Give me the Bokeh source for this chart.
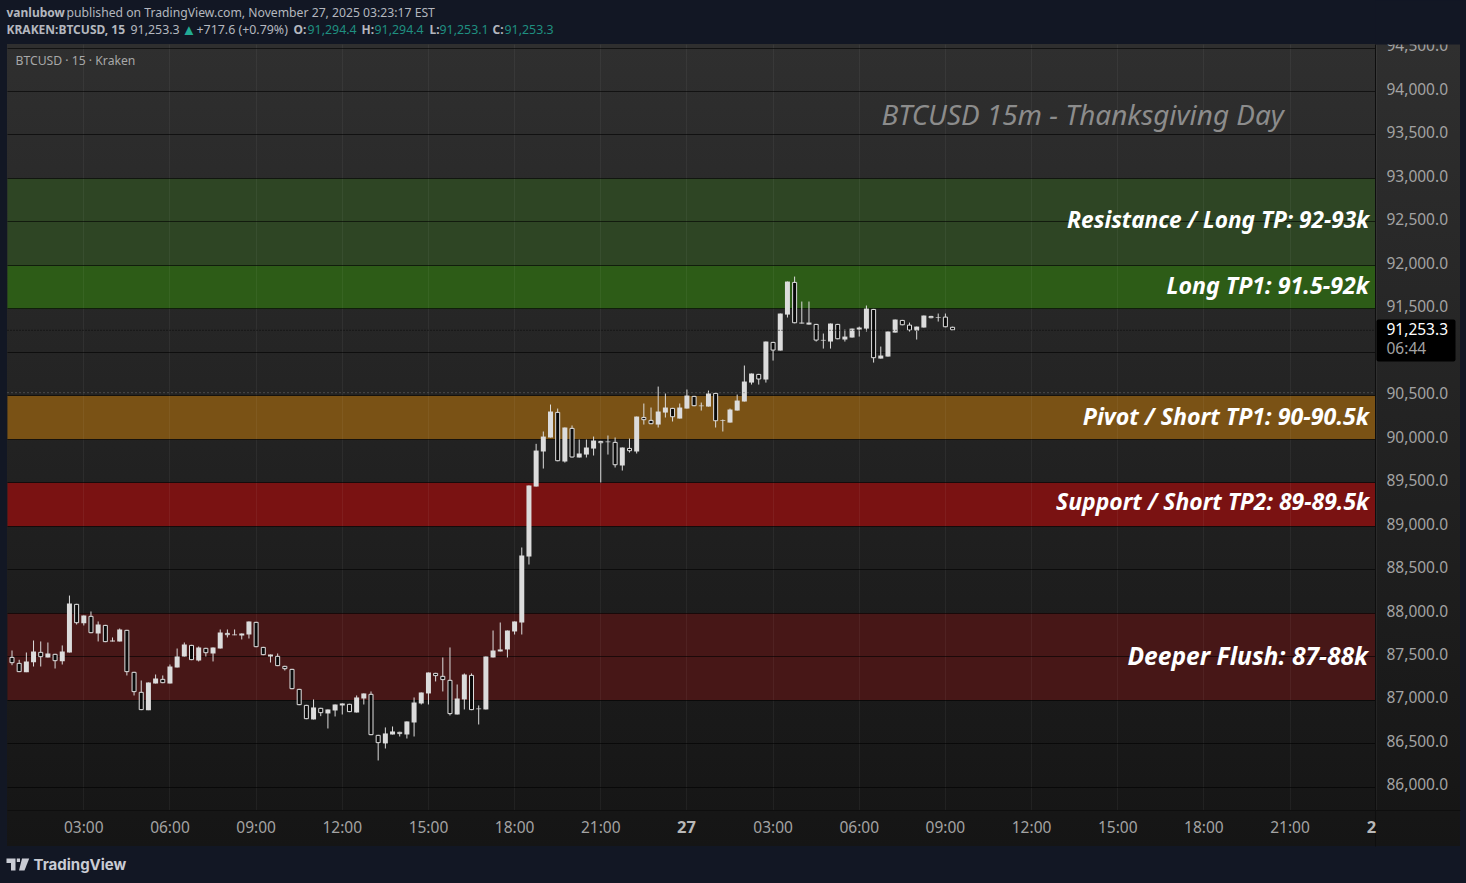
from bokeh.plotting import figure
from bokeh.embed import file_html
from bokeh.resources import INLINE
from bokeh.models import Label, FixedTicker, PolyAnnotation, BoxAnnotation
import numpy as np

# 15-minute bars; first bar is 00:30 on Nov 26, hours are counted from 00:00 Nov 26
first_bar_hour = 0.5
bar_hours = 0.25

opens = [87497,87428,87321,87436,87555,87490,87532,87447,87547,88107,87884,87969,87765,87865,87674,87674,87808,87325,87095,86884,
         87191,87244,87191,87375,87501,87635,87455,87601,87536,87593,87773,87746,87743,87754,87900,87612,87501,87509,87394,87359,
         87129,86945,86777,86911,86846,86880,86938,86957,86857,87018,87072,86600,86501,86604,86635,86604,86742,86961,87076,87313,
         87279,87233,86834,87007,87290,86895,86892,87490,87559,87582,87789,87892,88651,89456,89859,90020,90315,89744,90131,89790,
         89824,89893,89981,89966,89970,89698,89901,89859,90257,90223,90169,90307,90361,90238,90353,90499,90380,90376,90533,90211,
         90192,90330,90434,90652,90752,90687,91120,91020,91434,91810,91331,91319,91327,91135,91124,91327,91147,91170,91262,91273,
         91499,90928,90951,91227,91373,91319,91250,91285,91419,91396,91411,91294]
closes = [87424,87321,87444,87559,87493,87536,87447,87559,88110,87884,87973,87769,87869,87666,87685,87812,87321,87091,86884,87202,
          87248,87194,87386,87501,87639,87459,87605,87539,87605,87777,87746,87754,87766,87904,87608,87516,87524,87390,87355,87125,
          86941,86780,86915,86849,86892,86949,86961,86861,87030,87076,86596,86504,86616,86639,86608,86754,86972,87087,87317,87275,
          87229,86838,87018,87294,86884,86903,87501,87570,87582,87800,87904,88663,89468,89870,90031,90319,89747,90135,89790,89836,
          89905,89985,89954,89974,89701,89905,89862,90261,90219,90173,90319,90365,90253,90365,90503,90380,90388,90526,90207,90219,
          90342,90445,90664,90756,90687,91124,91020,91446,91814,91334,91342,91342,91135,91143,91331,91150,91181,91273,91285,91503,
          90932,90963,91239,91377,91311,91250,91296,91423,91392,91403,91288,91253.3]
highs = [87570,87463,87547,87685,87674,87662,87532,87628,88202,88107,87973,88019,87904,87865,87720,87823,87808,87325,87225,87202,
         87294,87283,87409,87593,87662,87635,87616,87601,87605,87812,87812,87812,87766,87904,87900,87612,87524,87536,87394,87359,
         87129,86945,87007,86911,86892,86949,86961,86957,87053,87076,87099,86600,86685,86696,86635,86754,87030,87087,87317,87313,
         87490,87605,87179,87306,87306,86938,87501,87800,87892,87800,87904,88755,89468,89947,90089,90399,90353,90135,90158,89997,
         89997,90031,89981,90043,90020,89905,90008,90261,90411,90365,90606,90526,90361,90411,90572,90499,90422,90560,90533,90227,
         90353,90514,90848,90756,90752,91124,91120,91446,91814,91871,91584,91584,91327,91216,91331,91327,91262,91273,91296,91538,
         91499,91066,91239,91377,91373,91342,91296,91423,91419,91446,91446,91294.4]
lows = [87401,87321,87321,87386,87386,87490,87363,87409,87547,87869,87858,87769,87674,87666,87674,87674,87283,87053,86884,86884,
        87191,87194,87191,87375,87501,87459,87444,87501,87444,87593,87720,87746,87697,87708,87608,87516,87432,87390,87340,87125,
        86941,86780,86777,86815,86673,86811,86834,86861,86857,86949,86596,86305,86443,86604,86581,86558,86581,86949,86949,87214,
        87099,86823,86834,86892,86884,86719,86892,87490,87559,87490,87754,87754,88559,89456,89663,90020,89747,89732,89790,89790,
        89790,89813,89502,89824,89675,89640,89847,89836,90169,90173,90135,90250,90204,90238,90353,90380,90330,90376,90135,90089,
        90192,90330,90434,90629,90629,90652,90905,91020,91400,91334,91331,91319,91124,91043,91043,91150,91124,91170,91181,91239,
        90882,90928,90951,91227,91311,91239,91147,91285,91392,91354,91288,91253.1]

time_ticks = [3, 6, 9, 12, 15, 18, 21, 24, 27, 30, 33, 36, 39, 42, 45, 48]
time_labels = ["03:00", "06:00", "09:00", "12:00", "15:00", "18:00", "21:00", "", "03:00", "06:00", "09:00", "12:00", "15:00", "18:00", "21:00", ""]
price_ticks = [86000, 86500, 87000, 87500, 88000, 88500, 89000, 89500, 90000, 90500, 91000, 91500, 92000, 92500, 93000, 93500, 94000, 94500]

zone_low = [92000, 91500, 90000, 89000, 87000]
zone_high = [93000, 92000, 90500, 89500, 88000]
zone_color = ["#2e4524", "#2d5c17", "#7a5215", "#7a1212", "#471717"]
zone_text = ["Resistance / Long TP: 92-93k", "Long TP1: 91.5-92k", "Pivot / Short TP1: 90-90.5k",
             "Support / Short TP2: 89-89.5k", "Deeper Flush: 87-88k"]

last_price = 91253.3
prev_close = 90535.7

NAVY = "#121724"
FONT = "Noto Sans"
W, H = 1466, 883

# The plot frame spans the page; pixel helpers place the chrome (panes, axes) on it
PX_PER_HOUR = 28.72
UNITS_PER_PX = 8000 / 695.5


def X(px):
    return 3 + (px - 83.3) / PX_PER_HOUR


def Y(py):
    return 86000 + (786.5 - py) * UNITS_PER_PX


p = figure(width=W, height=H, output_backend="svg", toolbar_location=None,
           x_range=(X(0), X(W)), y_range=(Y(H), Y(0)), y_axis_location="right",
           min_border_left=0, min_border_top=0, min_border_right=0, min_border_bottom=0,
           border_fill_color=None, background_fill_color=None, outline_line_color=None)
p.styles = {
    "position": "absolute", "left": "0px", "top": "0px",
    "background": f"linear-gradient(#2f2f2f, #151515) no-repeat 7px 44px / 1453px 802px, {NAVY}",
}

label_shift = 2.6 * UNITS_PER_PX   # price labels sit above their grid lines in the reference
p.xaxis.ticker = FixedTicker(ticks=time_ticks)
p.xaxis.major_label_overrides = {t: s for t, s in zip(time_ticks, time_labels)}
p.yaxis.ticker = FixedTicker(ticks=[v + label_shift for v in price_ticks])
p.yaxis.major_label_overrides = {v + label_shift: f"{v:,.1f}" for v in price_ticks}
p.xgrid.ticker = FixedTicker(ticks=time_ticks)
p.ygrid.ticker = FixedTicker(ticks=price_ticks)
p.xaxis.fixed_location = Y(810)
p.yaxis.fixed_location = X(1375)
p.xaxis.bounds = (X(7), X(1460))
p.yaxis.bounds = (Y(846), Y(44))
for ax in (p.xaxis, p.yaxis):
    ax.major_tick_line_color = None
    ax.minor_tick_line_color = None
    ax.major_tick_out = 0
    ax.axis_line_color = "#0e0e0e"
    ax.major_label_text_color = "#a3a3a3"
    ax.major_label_text_font = FONT
    ax.major_label_text_font_size = "15.5px"
p.yaxis.major_label_standoff = 11
p.xaxis.major_label_standoff = 5
p.xgrid.grid_line_color = "#ffffff"
p.xgrid.grid_line_alpha = 0.05
p.xgrid.cross_bounds = (Y(810), Y(44))
p.ygrid.grid_line_color = "#000000"
p.ygrid.grid_line_alpha = 0.6
p.ygrid.cross_bounds = (X(7), X(1375))

# Zones
p.quad(left=X(7), right=X(1375), bottom=zone_low, top=zone_high, fill_color=zone_color, line_color=None, level="image")

# Candles
t = first_bar_hour + bar_hours * np.arange(len(opens))
o, c, h, l = map(np.array, (opens, closes, highs, lows))
up = c >= o
p.segment(t, h, t, l, line_color="#dcdcdc", line_width=1)
p.vbar(t[up], width=0.174, top=c[up], bottom=o[up], fill_color="#dcdcdc", line_color=None)
p.vbar(t[~up], width=0.14, top=o[~up] - 6, bottom=c[~up] + 6, fill_color="#0a0a0a", line_color="#e0e0e0", line_width=1)

# Price lines
p.line([X(7), X(1375)], [prev_close, prev_close], line_color="#707070", line_dash=[1, 3], line_width=1)
p.line([X(7), X(1375)], [last_price, last_price], line_color="#0a0a0a", line_dash=[1, 2], line_width=1)


def txt(px, py, text, color="#a3a3a3", size=12.5, style="normal", align="left", base="middle", font=FONT):
    p.add_layout(Label(x=px, y=H - py, x_units="screen", y_units="screen", text=text, text_color=color,
                       text_font=font, text_font_size=f"{size}px", text_font_style=style,
                       text_align=align, text_baseline=base))


def box(x0, x1, y0, y1, color, level="annotation"):
    p.add_layout(BoxAnnotation(left=X(x0), right=X(x1), top=Y(y0), bottom=Y(y1), fill_color=color, fill_alpha=1,
                               line_color=None, level=level))


GREY = "#b4b7bf"
TEAL = "#22ab94"
TEAL2 = "#1f8f80"
# Clip of the top scale label
box(1375, 1462, 0, 44, NAVY, "overlay")

# Header
txt(6, 11.5, "vanlubow", GREY, 12, "bold")
txt(66, 11.5, "published on TradingView.com, November 27, 2025 03:23:17 EST", GREY, 12.2)
txt(6, 29, "KRAKEN:BTCUSD, 15", GREY, 12, "bold")
txt(130, 29, "91,253.3", GREY, 12.4)
txt(181, 28.5, "▲", TEAL, 15)
txt(196, 29, "+717.6 (+0.79%)", GREY, 12.4)
for x1, lab, x2, val in [(293, "O:", 307, "91,294.4"), (361, "H:", 374, "91,294.4"),
                         (429, "L:", 439, "91,253.1"), (492, "C:", 504, "91,253.3")]:
    txt(x1, 29, lab, GREY, 12, "bold")
    txt(x2, 29, val, TEAL2, 12.4)

txt(15, 59.5, "BTCUSD · 15 · Kraken", "#a8a8a8", 12.2)
txt(881, 113, "BTCUSD 15m - Thanksgiving Day", "#8c8c8c", 27.9, "italic")

for ztxt, y, size, right in zip(zone_text, [219, 284, 415, 501, 655], [22.6, 23.2, 23.2, 22.9, 24.6],
                                [1368.5, 1368.5, 1368.5, 1368.5, 1367.5]):
    txt(right, y, ztxt, "#ffffff", size, "bold italic", "right")

# Last price tag
p.add_layout(BoxAnnotation(left=X(1376), right=X(1455), top=Y(319), bottom=Y(361), fill_color="#000000", fill_alpha=1,
                           line_color=None, level="annotation", border_radius=2))
txt(1386, 328, "91,253.3", "#ffffff", 15.5)
txt(1386, 347.5, "06:44", "#a3a3a3", 15.5)

# Bold day labels on the time scale
txt(686, 826.5, "27", "#b8b8b8", 16.5, "bold", "center")
txt(1371, 826.5, "2", "#b8b8b8", 16.5, "bold", "center")

# Footer logo
txt(33, 863.5, "TradingView", "#c9ccd4", 15, "bold", font="Inter")
for xs, ys in [([6, 15, 15, 10.5, 10.5, 6], [858, 858, 870, 870, 862.5, 862.5]),
               ([16.3, 19.5, 19.5, 16.3], [858, 858, 861.5, 861.5]),
               ([21.5, 28.7, 24, 18.5], [858, 858, 870, 870])]:
    p.add_layout(PolyAnnotation(xs=[X(v) for v in xs], ys=[Y(v) for v in ys], fill_color="#c9ccd4",
                                fill_alpha=1, line_color=None))

open("out.html", "w").write(file_html(p, INLINE))
